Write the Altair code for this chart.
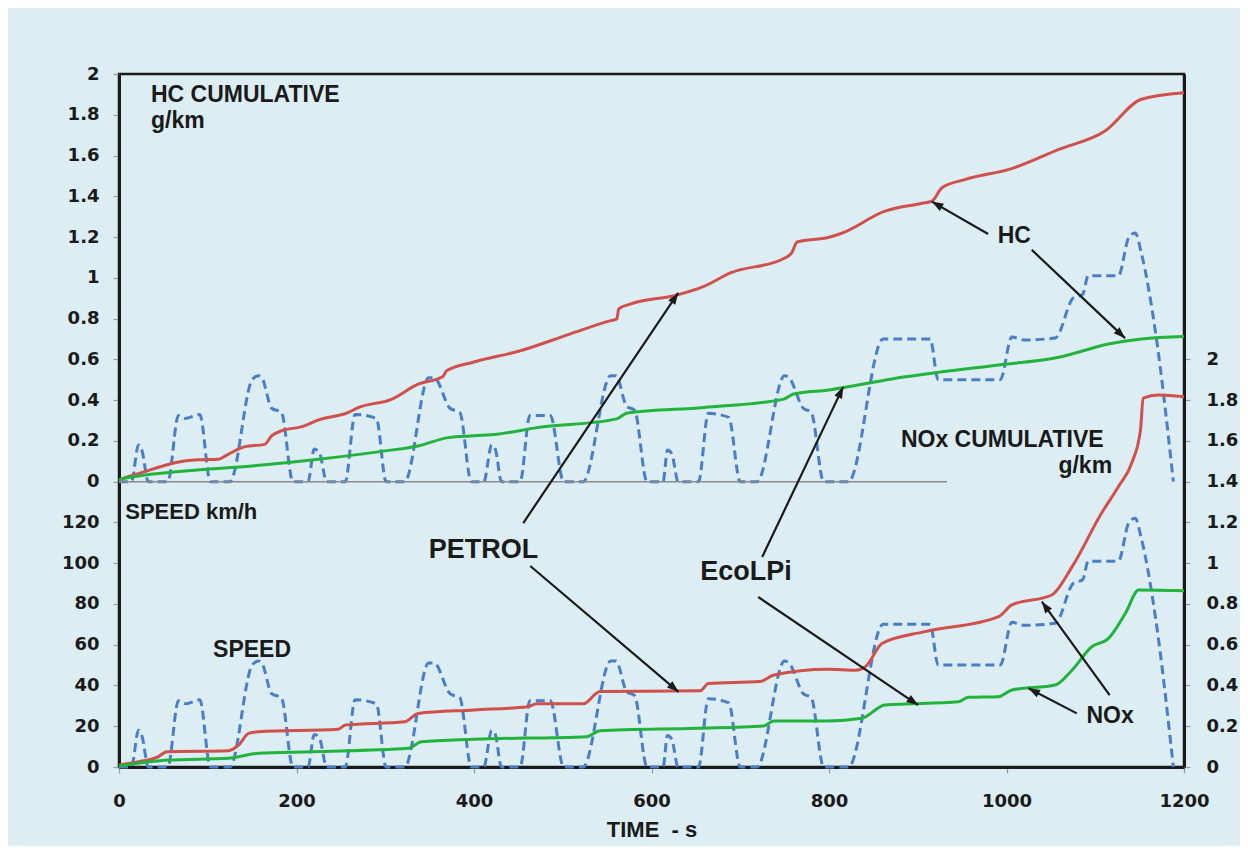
import math
import altair as alt
import pandas as pd

# ---------------- data ----------------
speed_t = [0, 14, 22, 26, 33, 55, 67, 75, 91, 103, 125, 150, 157, 161, 172, 183, 196,
           213, 220, 226, 234, 255, 266, 290, 301, 322, 349, 355, 373, 384, 397,
           411, 420, 424, 431, 452, 463, 486, 501, 523, 554, 560, 572, 581, 595,
           613, 618, 623, 630, 653, 664, 687, 700, 719, 750, 755, 771, 780, 794,
           822, 861, 885, 914, 923, 993, 1006, 1020, 1055, 1075, 1086, 1092, 1126, 1138, 1145, 1152, 1168, 1188]
speed_v = [0, 0, 18, 15, 0, 0, 32.5, 31, 33, 0, 0, 50, 52, 51, 36, 34, 0,
           0, 16, 14, 0, 0, 33, 31, 0, 0, 51, 51, 36, 34, 0,
           0, 18, 16, 0, 0, 32.5, 32.5, 0, 0, 52, 52, 37, 35, 0,
           0, 15.5, 13.5, 0, 0, 33.5, 31.5, 0, 0, 52, 51, 36, 34, 0,
           0, 70, 70, 70, 50, 50, 71, 69.5, 70.5, 90, 92, 101, 101, 120, 122, 112, 73, 0]

hc_petrol_t = [0, 11, 37, 63, 89, 112, 123, 142, 164, 172, 183, 206, 225, 258, 270, 307, 337, 365, 369,
               400, 452, 508, 554, 561, 563, 576, 629, 659, 689, 749, 758, 764, 800, 815, 863, 908, 916,
               927, 953, 1006, 1059, 1111, 1152, 1200]
hc_petrol = [0.01, 0.025, 0.06, 0.093, 0.107, 0.11, 0.134, 0.172, 0.183, 0.225, 0.249, 0.27, 0.303, 0.339,
             0.364, 0.404, 0.478, 0.516, 0.544, 0.587, 0.642, 0.724, 0.79, 0.798, 0.847, 0.871, 0.916,
             0.958, 1.024, 1.095, 1.122, 1.176, 1.199, 1.22, 1.327, 1.368, 1.376, 1.441, 1.482, 1.536,
             1.63, 1.72, 1.876, 1.908]

hc_eco_t = [0, 11, 74, 150, 225, 300, 337, 371, 400, 426, 471, 561, 572, 659, 749, 760, 800, 871, 984,
            1059, 1115, 1152, 1200]
hc_eco = [0.01, 0.02, 0.052, 0.077, 0.11, 0.151, 0.175, 0.216, 0.225, 0.233, 0.265, 0.308, 0.336, 0.364,
          0.405, 0.43, 0.45, 0.504, 0.569, 0.61, 0.675, 0.70, 0.712]

nox_petrol_t = [0, 22, 44, 54, 123, 135, 146, 157, 247, 255, 322, 337, 400, 460, 471, 523, 542, 655, 664,
                722, 738, 798, 830, 841, 860, 908, 991, 1006, 1051, 1074, 1107, 1126, 1141, 1151, 1154,
                1171, 1200]
nox_petrol = [0.01, 0.026, 0.05, 0.075, 0.08, 0.108, 0.165, 0.173, 0.185, 0.206, 0.222, 0.263, 0.28,
              0.296, 0.31, 0.31, 0.37, 0.374, 0.41, 0.419, 0.451, 0.479, 0.475, 0.492, 0.607, 0.664,
              0.738, 0.795, 0.844, 0.983, 1.245, 1.375, 1.49, 1.654, 1.81, 1.825, 1.817]

nox_eco_t = [0, 56, 123, 157, 217, 326, 341, 400, 527, 542, 651, 726, 738, 798, 837, 863, 946, 957, 991,
             1006, 1055, 1074, 1096, 1115, 1134, 1149, 1200]
nox_eco = [0.005, 0.034, 0.043, 0.067, 0.075, 0.092, 0.124, 0.136, 0.149, 0.178, 0.19, 0.201, 0.226,
           0.226, 0.239, 0.304, 0.32, 0.342, 0.345, 0.378, 0.402, 0.476, 0.59, 0.631, 0.754, 0.868, 0.865]

fuels = ["PETROL", "EcoLPi"]
x_ticks = [0, 200, 400, 600, 800, 1000, 1200]
speed_ticks = [0, 20, 40, 60, 80, 100, 120]
g_ticks = [0, 0.2, 0.4, 0.6, 0.8, 1, 1.2, 1.4, 1.6, 1.8, 2]

# annotation texts (time s, position on the NOx scale)
ann_text = ["HC CUMULATIVE", "g/km", "SPEED km/h", "SPEED", "PETROL", "EcoLPi", "HC",
            "NOx CUMULATIVE", "NOx"]
ann_t = [36, 36, 7, 106, 349, 655, 990, 881, 1090]
ann_u = [3.264, 3.134, 1.215, 0.541, 1.024, 0.918, 2.573, 1.572, 0.217]
ann_fs = [23, 23, 22, 23, 27, 27, 23, 23, 23]
ann_r_text = ["g/km"]
ann_r_t = [1119]
ann_r_u = [1.441]

# arrows: start (t, u) -> end (t, u)
arr_t1 = [455.5, 463.4, 724.7, 720.2, 979.3, 1028.5, 1116.2, 1079.2]
arr_u1 = [1.197, 0.986, 1.030, 0.834, 2.615, 2.537, 0.353, 0.263]
arr_t2 = [630.1, 630.4, 816.0, 900.4, 915.9, 1133.6, 1039.8, 1024.7]
arr_u2 = [2.326, 0.369, 1.865, 0.304, 2.774, 2.104, 0.811, 0.386]

# ---------------- styling ----------------
RED = "#d0504b"
GREEN = "#22b33d"
BLUE = "#4a7ec6"
BG = "#dcedf4"
INK = "#1a1a1a"
W, H = 1065, 693
U_DOM = [0, 3.4]
HC_DOM = [-1.4, 2.0]

X = alt.X("t:Q", scale=alt.Scale(domain=[0, 1200], nice=False, zero=False),
          axis=alt.Axis(values=x_ticks, format="d", labelFlush=False,
                        title="TIME\u00a0\u00a0-\u00a0s", tickSize=6, labelPadding=19,
                        titleFont="Liberation Sans", titleFontSize=22, titleFontWeight="bold",
                        titleColor=INK, titlePadding=9))

def sc(dom):
    return alt.Scale(domain=dom, nice=False, zero=False)

color = alt.Color("fuel:N", scale=alt.Scale(domain=fuels, range=[RED, GREEN]), legend=None)

hc_df = pd.concat([
    pd.DataFrame({"t": hc_petrol_t, "hc": hc_petrol, "fuel": fuels[0]}),
    pd.DataFrame({"t": hc_eco_t, "hc": hc_eco, "fuel": fuels[1]}),
])
nox_df = pd.concat([
    pd.DataFrame({"t": nox_petrol_t, "nox": nox_petrol, "fuel": fuels[0]}),
    pd.DataFrame({"t": nox_eco_t, "nox": nox_eco, "fuel": fuels[1]}),
])
spd_df = pd.DataFrame({"t": speed_t, "speed": speed_v})

left_vals = [round(s / 100 - 1.4, 3) for s in speed_ticks] + g_ticks
left_axis = alt.Axis(orient="left", values=left_vals, title=None, tickSize=6, labelPadding=14,
                     labelExpr="datum.value < -0.01 ? format((datum.value + 1.4) * 100, '.0f') : format(datum.value, '.1~f')")
right_axis = alt.Axis(orient="right", values=g_ticks, title=None, tickSize=6, labelPadding=16,
                      format=".1~f")

speed_bot = alt.Chart(spd_df).mark_line(color=BLUE, strokeWidth=3, strokeDash=[9, 5],
                                        interpolate="monotone").encode(
    x=X, y=alt.Y("speed:Q", scale=sc([0, 340]), axis=None))
speed_top = alt.Chart(spd_df).mark_line(color=BLUE, strokeWidth=3, strokeDash=[9, 5],
                                        interpolate="monotone").encode(
    x=X, y=alt.Y("speed:Q", scale=sc([-140, 200]), axis=None))

zero_df = pd.DataFrame({"t": [0], "t2": [933], "hc": [0]})
zero_line = alt.Chart(zero_df).mark_rule(color="#8a8a8a", strokeWidth=1.5).encode(
    x=X, x2="t2", y=alt.Y("hc:Q", scale=sc(HC_DOM), axis=None))

hc_lines = alt.Chart(hc_df).mark_line(strokeWidth=3, interpolate="monotone").encode(
    x=X, y=alt.Y("hc:Q", scale=sc(HC_DOM), axis=left_axis), color=color)
nox_lines = alt.Chart(nox_df).mark_line(strokeWidth=3, interpolate="monotone").encode(
    x=X, y=alt.Y("nox:Q", scale=sc(U_DOM), axis=right_axis), color=color)

ann_df = pd.DataFrame({"t": ann_t, "u": ann_u, "txt": ann_text, "fs": ann_fs})
ann = alt.Chart(ann_df).mark_text(align="left", baseline="alphabetic", font="Liberation Sans",
                                  fontWeight="bold", color=INK).encode(
    x=X, y=alt.Y("u:Q", scale=sc(U_DOM), axis=None), text="txt:N",
    size=alt.Size("fs:Q", scale=None, legend=None))
ann_r_df = pd.DataFrame({"t": ann_r_t, "u": ann_r_u, "txt": ann_r_text})
ann_r = alt.Chart(ann_r_df).mark_text(align="right", baseline="alphabetic", font="Liberation Sans",
                                      fontWeight="bold", fontSize=23, color=INK).encode(
    x=X, y=alt.Y("u:Q", scale=sc(U_DOM), axis=None), text="txt:N")

kx, ky = W / 1200.0, H / 3.4
angles = []
for a, b, c, d in zip(arr_t1, arr_u1, arr_t2, arr_u2):
    dx = (c - a) * kx
    dy = -(d - b) * ky
    angles.append((math.degrees(math.atan2(dx, -dy)) + 360) % 360)

arr_df = pd.DataFrame({"t": arr_t1, "u": arr_u1, "t2": arr_t2, "u2": arr_u2})
arrows = alt.Chart(arr_df).mark_rule(color=INK, strokeWidth=2.2).encode(
    x=X, x2="t2", y=alt.Y("u:Q", scale=sc(U_DOM), axis=None), y2="u2")
head_df = pd.DataFrame({"t": arr_t2, "u": arr_u2, "ang": angles})
heads = alt.Chart(head_df).mark_point(shape="M0,0 L0.8,2.2 L-0.8,2.2 Z", filled=True, size=110,
                                      color=INK, opacity=1, strokeWidth=0).encode(
    x=X, y=alt.Y("u:Q", scale=sc(U_DOM), axis=None), angle=alt.Angle("ang:Q", scale=None))

chart = alt.layer(speed_bot, speed_top, zero_line, hc_lines, nox_lines, arrows, heads, ann, ann_r).resolve_scale(
    y="independent"
).properties(
    width=W, height=H,
    padding={"left": 111, "top": 66, "right": 56, "bottom": 79},
    autosize=alt.AutoSizeParams(type="none"),
    background=BG,
).configure_view(
    stroke=INK, strokeWidth=2.5
).configure_axis(
    grid=False, domainColor=INK, domainWidth=3, tickColor="#9a9a9a", tickWidth=1.2,
    labelFont="DejaVu Sans", labelFontWeight="bold", labelFontSize=18, labelColor=INK,
)

chart.save("out.html", embed_options={"renderer": "svg", "actions": False})
